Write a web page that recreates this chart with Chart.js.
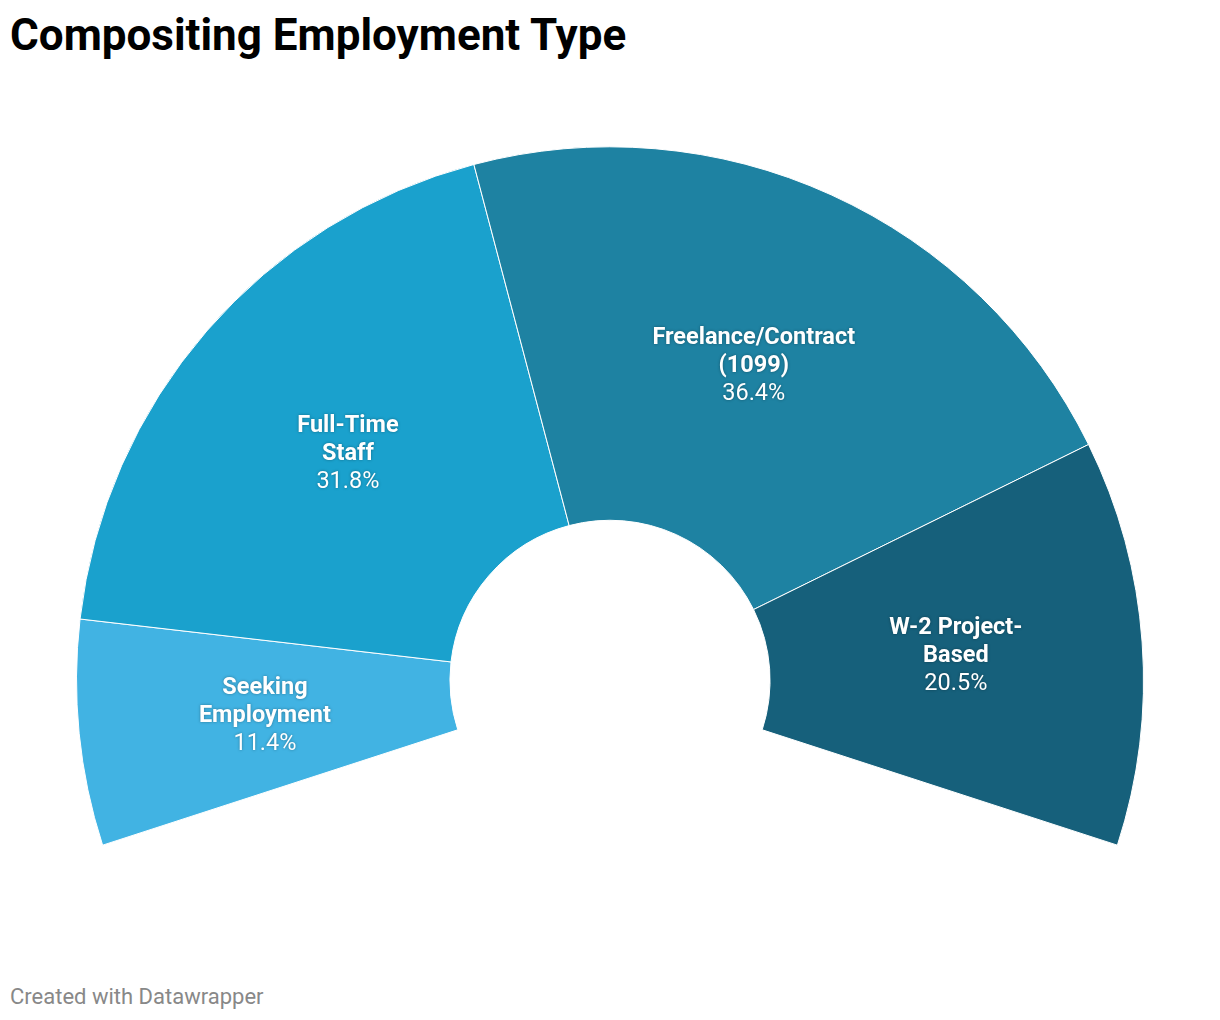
<!DOCTYPE html>
<html>
<head>
<meta charset="utf-8">
<script src="https://cdn.jsdelivr.net/npm/chart.js@4/dist/chart.umd.min.js"></script>
<style>
  html, body { margin: 0; padding: 0; background: #fff; }
  body { width: 1220px; height: 1020px; position: relative; font-family: Roboto, sans-serif; }
  h1 { position: absolute; left: 10px; top: 9px; margin: 0; font-size: 44px; line-height: 52px; font-weight: 700; color: #000; letter-spacing: 0; }
  .foot { position: absolute; left: 10px; top: 984px; font-size: 22px; color: #888; }
  .wrap { position: absolute; left: 76px; top: 146px; width: 1068px; height: 700px; }
</style>
</head>
<body>
<h1>Compositing Employment Type</h1>
<div class="wrap"><canvas id="semiDonut"></canvas></div>
<div class="foot">Created with Datawrapper</div>
<script>
const categories = ["Seeking Employment", "Full-Time Staff", "Freelance/Contract (1099)", "W-2 Project-Based"];
const labelLines = [["Seeking", "Employment"], ["Full-Time", "Staff"], ["Freelance/Contract", "(1099)"], ["W-2 Project-", "Based"]];
const shares = [11.4, 31.8, 36.4, 20.5];
const colors = ["#41b3e3", "#1aa1cd", "#1e82a2", "#16607b"];

(() => {
  const ctx = document.getElementById("semiDonut");
  if (!ctx || typeof Chart === "undefined") return;

  const sliceLabels = {
    id: "sliceLabels",
    afterDatasetsDraw(chart) {
      const c = chart.ctx;
      const meta = chart.getDatasetMeta(0);
      meta.data.forEach((arc, i) => {
        const p = arc.getCenterPoint();
        const lines = labelLines[i];
        const rows = lines.length + 1;
        const lh = 28;
        let y = p.y - (rows - 1) * lh / 2 + 1;
        c.save();
        c.fillStyle = "#fff";
        c.textAlign = "center";
        c.textBaseline = "middle";
        c.shadowColor = "rgba(0,0,0,0.35)";
        c.shadowBlur = 3;
        c.font = "700 23.5px Roboto";
        lines.forEach(t => { c.fillText(t, p.x, y); y += lh; });
        c.font = "400 23.5px Roboto";
        c.fillText(shares[i].toFixed(1) + "%", p.x, y);
        c.restore();
      });
    }
  };

  new Chart(ctx, {
    type: "doughnut",
    data: {
      labels: categories,
      datasets: [{ data: shares, backgroundColor: colors, borderColor: "#fff", borderWidth: 1 }]
    },
    options: {
      responsive: true,
      maintainAspectRatio: false,
      animation: false,
      rotation: -108,
      circumference: 216,
      cutout: "30%",
      plugins: { legend: { display: false }, tooltip: { enabled: false } }
    },
    plugins: [sliceLabels]
  });
})();
</script>
</body>
</html>
